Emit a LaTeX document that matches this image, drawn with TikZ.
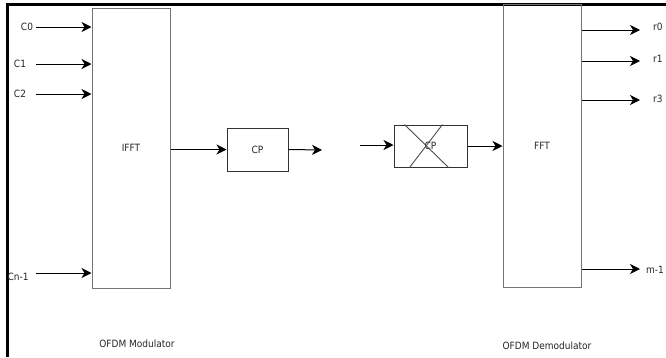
\documentclass[tikz,border=0pt]{standalone}
\usepackage{fontspec}
\setmainfont{DejaVu Sans Condensed}
\usetikzlibrary{arrows.meta}
\begin{document}
\begin{tikzpicture}[x=1pt,y=-1pt,
  blk/.style={draw=black!55,line width=1pt,minimum width=#1,inner sep=0pt},
  arr/.style={line width=1pt,-{Stealth[length=10pt,width=10pt,inset=3pt]}},
  lbl/.style={inner sep=0pt,text=black!85,font=\fontsize{10}{12}\selectfont}]
\useasboundingbox (0,0) rectangle (666,357);
\fill[white] (0,0) rectangle (666,357);
% frame
\draw[line width=3pt] (7,357) -- (7,4) -- (666,4);
% blocks
\node[blk=78pt,minimum height=280pt,lbl] (ifft) at (131,148) {IFFT};
\node[blk=78pt,minimum height=283pt,lbl] (fft) at (542,145.5) {FFT};
\node[blk=61pt,minimum height=43pt,draw=black!80,lbl] (cp) at (257.5,149.5) {CP};
\node[blk=73pt,minimum height=42pt,draw=black!80,lbl] (cpr) at (430.5,146) {CP};
\draw[line width=0.9pt,black!70] ([xshift=11pt]cpr.north west) -- ([xshift=-19pt]cpr.south east);
\draw[line width=0.9pt,black!70] ([xshift=16pt]cpr.south west) -- ([xshift=-25pt]cpr.north east);
% input labels
\node[lbl] (c0) at (27,27) {C0};
\node[lbl] (c1) at (20,64) {C1};
\node[lbl] (c2) at (20,94) {C2};
\node[lbl] (cn) at (18,277) {Cn-1};
\coordinate (c0s) at (36,27);
\coordinate (c1s) at (36,64);
\coordinate (c2s) at (36,94);
\coordinate (cns) at (36,273);
\draw[arr] (c0s) -- (c0s -| ifft.west);
\draw[arr] (c1s) -- (c1s -| ifft.west);
\draw[arr] (c2s) -- (c2s -| ifft.west);
\draw[arr] (cns) -- (cns -| ifft.west);
% middle chain
\draw[arr] (ifft.east |- cp) -- (cp.west);
\coordinate (cpo) at (322,150);
\draw[arr] (cp.east) -- (cpo);
\coordinate (cpi) at (360,145);
\draw[arr] (cpi) -- (cpi -| cpr.west);
\draw[arr] (cpr.east) -- (fft.west |- cpr.east);
% outputs
\coordinate (r0e) at (640,30);
\coordinate (r1e) at (640,61);
\coordinate (r3e) at (640,100);
\coordinate (rme) at (640,269);
\draw[arr] (fft.east |- r0e) -- (r0e);
\draw[arr] (fft.east |- r1e) -- (r1e);
\draw[arr] (fft.east |- r3e) -- (r3e);
\draw[arr] (fft.east |- rme) -- (rme);
\node[lbl,anchor=west] (r0) at (653,27) {r0};
\node[lbl,anchor=west] (r1) at (653,59) {r1};
\node[lbl,anchor=west] (r3) at (653,99) {r3};
\node[lbl,anchor=west] (rm) at (646,270) {m-1};
% captions
\node[lbl] (mod) at (137,344) {OFDM Modulator};
\node[lbl] (demod) at (547,346) {OFDM Demodulator};
\end{tikzpicture}
\end{document}
